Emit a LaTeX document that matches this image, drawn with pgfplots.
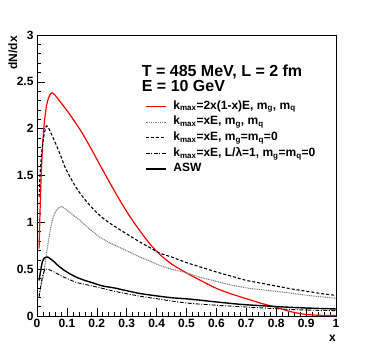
\documentclass[border=0pt]{standalone}
\usepackage{fontspec}
\setmainfont{Liberation Sans}
\usepackage{pgfplots}
\pgfplotsset{compat=1.18}
\begin{document}
\begin{tikzpicture}
\path[use as bounding box] (0,0) rectangle (374pt,351pt);
\begin{axis}[
  name=ax,
  at={(37pt,35pt)}, anchor=south west, scale only axis, width=299pt, height=281pt,
  xmin=0, xmax=1, ymin=0, ymax=3,
  xtick={0,0.1,0.2,0.3,0.4,0.5,0.6,0.7,0.8,0.9,1},
  ytick={0,0.5,1,1.5,2,2.5,3},
  minor x tick num=4, minor y tick num=4,
  tick align=inside, xtick pos=bottom, ytick pos=left,
  major tick length=8pt, minor tick length=4pt,
  every tick/.style={black, line width=0.6pt},
  axis line style={line width=0.8pt},
  /pgf/number format/assume math mode=true,
  tick label style={font=\fontsize{12}{14}\selectfont\bfseries},
  no markers,
  legend style={at={(0.361,0.774)}, anchor=north west, draw=none, fill=none,
    inner sep=0pt, outer sep=0pt, column sep=7pt, row sep=0pt,
    font=\fontsize{12}{14}\selectfont\bfseries,
    nodes={inner xsep=0pt, inner ysep=1.6pt, text height=9pt, text depth=3.5pt}},
  legend cell align=left,
  legend image code/.code={\draw[#1] (0pt,0pt) -- (20pt,0pt);},
]
% red: kmax=2x(1-x)E, mg, mq
\addplot[red, line width=1.2pt, smooth, tension=0.4] coordinates {
(0.007,0.72) (0.010,1.10) (0.014,1.50) (0.018,1.78) (0.024,2.05) (0.032,2.25)
(0.040,2.34) (0.048,2.38) (0.057,2.37) (0.077,2.29) (0.094,2.22) (0.110,2.15)
(0.144,1.99) (0.177,1.81) (0.211,1.61) (0.244,1.42) (0.278,1.23) (0.311,1.06)
(0.344,0.91) (0.38,0.76) (0.41,0.66) (0.45,0.555) (0.5,0.46) (0.55,0.375)
(0.6,0.295) (0.65,0.235) (0.7,0.185) (0.75,0.135) (0.8,0.093)
(0.85,0.045) (0.9,0.016) (0.95,0.007) (1.0,0.005)};
\addlegendentry{k\textsubscript{max}=2x(1-x)E, m\textsubscript{g}, m\textsubscript{q}}
% dotted gray: kmax=xE, mg, mq
\addplot[gray, line width=1.1pt, dash pattern=on 1pt off 0.8pt, smooth, tension=0.4] coordinates {
(0.007,0.22) (0.012,0.30) (0.018,0.38) (0.023,0.46) (0.029,0.60) (0.035,0.74)
(0.043,0.89) (0.051,1.02) (0.060,1.10) (0.068,1.14) (0.082,1.17) (0.10,1.13)
(0.124,1.07) (0.144,1.02) (0.175,0.93) (0.211,0.84) (0.244,0.78)
(0.278,0.73) (0.311,0.68) (0.344,0.63) (0.378,0.585) (0.411,0.54) (0.45,0.50) (0.489,0.47)
(0.55,0.41) (0.601,0.37) (0.65,0.33) (0.712,0.295) (0.78,0.27) (0.846,0.245)
(0.92,0.215) (1.0,0.19)};
\addlegendentry{k\textsubscript{max}=xE, m\textsubscript{g}, m\textsubscript{q}}
% dashed: kmax=xE, mg=mq=0
\addplot[black, line width=1.1pt, dash pattern=on 3pt off 2pt, smooth, tension=0.4] coordinates {
(0.007,1.27) (0.010,1.50) (0.015,1.72) (0.020,1.86) (0.026,1.97) (0.032,2.03)
(0.040,2.00) (0.057,1.88) (0.077,1.73) (0.095,1.58) (0.12,1.43) (0.144,1.31)
(0.177,1.18) (0.211,1.07) (0.244,0.99) (0.278,0.92) (0.311,0.855)
(0.344,0.79) (0.378,0.73) (0.411,0.67) (0.45,0.63) (0.5,0.57) (0.55,0.52) (0.6,0.47)
(0.65,0.425) (0.7,0.38) (0.75,0.35) (0.8,0.32) (0.85,0.29) (0.9,0.265)
(0.95,0.24) (1.0,0.22)};
\addlegendentry{k\textsubscript{max}=xE, m\textsubscript{g}=m\textsubscript{q}=0}
% dash-dot: kmax=xE, L/lambda=1, mg=mq=0
\addplot[black, line width=0.9pt, dash pattern=on 4pt off 1.5pt on 1pt off 1.5pt, smooth, tension=0.4] coordinates {
(0.007,0.20) (0.012,0.31) (0.018,0.42) (0.024,0.48) (0.029,0.50) (0.04,0.495)
(0.057,0.47) (0.08,0.43) (0.101,0.40) (0.13,0.36) (0.157,0.34) (0.185,0.32)
(0.213,0.30) (0.25,0.27) (0.28,0.25) (0.347,0.21) (0.4,0.185) (0.45,0.16)
(0.512,0.135) (0.6,0.115) (0.679,0.10) (0.76,0.085) (0.846,0.07) (0.92,0.062)
(1.0,0.057)};
\addlegendentry{k\textsubscript{max}=xE, L/λ=1, m\textsubscript{g}=m\textsubscript{q}=0}
% ASW
\addplot[black, line width=1.4pt, smooth, tension=0.4] coordinates {
(0.007,0.38) (0.012,0.48) (0.018,0.58) (0.025,0.62) (0.035,0.63) (0.045,0.61)
(0.057,0.58) (0.07,0.54) (0.09,0.49) (0.11,0.45) (0.135,0.41) (0.16,0.38)
(0.19,0.35) (0.22,0.32) (0.258,0.30) (0.3,0.27) (0.344,0.24) (0.4,0.215)
(0.45,0.195) (0.512,0.18) (0.6,0.15) (0.679,0.125) (0.75,0.11) (0.846,0.093)
(0.92,0.083) (1.0,0.075)};
\addlegendentry{ASW}
\node[anchor=base west, inner sep=0pt, text depth=0pt, font=\fontsize{16}{18}\selectfont\bfseries]
  at (rel axis cs:0.35,0.854) {T = 485 MeV, L = 2 fm};
\node[anchor=base west, inner sep=0pt, font=\fontsize{16}{18}\selectfont\bfseries]
  at (rel axis cs:0.35,0.8007) {E = 10 GeV};
\end{axis}
\node[rotate=90, anchor=east, inner sep=0pt, font=\fontsize{12}{14}\selectfont\bfseries]
  at ([xshift=-24pt,yshift=-1pt]ax.north west) {dN/dx};
\node[anchor=north east, inner sep=0pt, font=\fontsize{12}{14}\selectfont\bfseries]
  at ([yshift=-19pt]ax.south east) {x};
\end{tikzpicture}
\end{document}
